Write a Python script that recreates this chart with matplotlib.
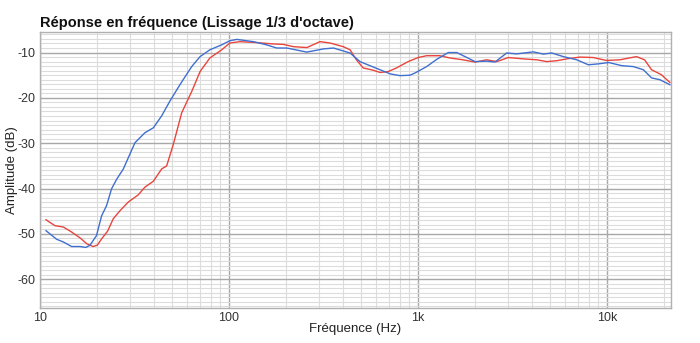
import numpy as np
import matplotlib
matplotlib.use("Agg")
import matplotlib.pyplot as plt
from matplotlib.ticker import FixedLocator, NullFormatter, MultipleLocator

plt.rcParams['font.family'] = ['Liberation Sans', 'DejaVu Sans']

title = "Réponse en fréquence (Lissage 1/3 d'octave)"
xlabel = "Fréquence (Hz)"
ylabel = "Amplitude (dB)"

blue_freq = [10.76, 12.25, 13.3, 14.7, 16.3, 17.5, 18.4, 19.9, 21.2, 22.5, 23.9, 25.5, 27.6,
             31.8, 35.9, 39.8, 44.0, 48.7, 55.0, 63.5, 70.3, 79.2, 91.5, 101, 110, 134.6, 158,
             178.6, 202, 258, 316, 357, 437, 493, 557, 630, 711, 803, 907, 965, 1111,
             1256, 1446, 1603, 1774, 2004, 2308, 2553, 2944, 3326, 4077, 4603, 5096,
             5874, 6913, 7963, 8994, 10200, 11970, 13780, 15570, 17200, 19050, 21500]
blue_db = [-49.3, -51.2, -51.8, -52.8, -52.8, -53.0, -52.5, -50.4, -46.0, -43.8, -40.1, -37.9, -35.7,
           -29.9, -27.7, -26.6, -24.0, -20.7, -17.1, -13.1, -10.9, -9.4, -8.3, -7.4, -7.1, -7.6, -8.3,
           -9.0, -9.0, -9.9, -9.2, -9.0, -10.1, -12.0, -12.9, -13.8, -14.7, -15.1, -15.0, -14.5, -13.1,
           -11.5, -10.0, -10.0, -10.9, -12.0, -11.9, -12.1, -10.1, -10.3, -9.85, -10.35, -10.1,
           -10.9, -11.6, -12.7, -12.5, -12.2, -12.9, -13.1, -13.8, -15.6, -16.0, -17.1]

red_freq = [10.76, 12.0, 13.3, 14.7, 16.3, 17.7, 19.1, 20.1, 21.2, 22.8, 24.4, 26.5, 29.3,
            33.1, 35.9, 39.8, 44.0, 46.8, 50.8, 56.2, 63.5, 70.3, 79.2, 91.5, 101, 114, 140,
            171, 194, 219, 258, 303, 343, 402, 437, 472, 513, 580, 630, 695, 769, 887, 1002,
            1111, 1303, 1476, 1727, 2004, 2308, 2614, 3003, 3609, 4249, 4801, 5422, 6123,
            7196, 8450, 9926, 11700, 14300, 15800, 17200, 19400, 21500]
red_db = [-46.9, -48.2, -48.5, -49.6, -50.9, -52.2, -52.8, -52.5, -51.1, -49.4, -46.7, -44.9, -43.0,
          -41.4, -39.7, -38.4, -35.7, -35.0, -30.2, -23.3, -18.6, -14.2, -11.2, -9.4, -7.9, -7.6, -7.8,
          -8.1, -8.2, -8.7, -8.9, -7.6, -7.9, -8.7, -9.4, -11.6, -13.4, -13.9, -14.4, -14.2, -13.4, -12.0, -11.1,
          -10.7, -10.7, -11.2, -11.6, -12.1, -11.6, -12.0, -11.1, -11.4, -11.6, -12.0, -11.8, -11.4,
          -11.0, -11.1, -11.75, -11.6, -10.9, -11.6, -13.8, -14.9, -16.6]

xticks = [10, 100, 1000, 10000]
xticklabels = ["10", "100", "1k", "10k"]
yticks = [-60, -50, -40, -30, -20, -10]
yticklabels = ["-60", "-50", "-40", "-30", "-20", "-10"]

fig = plt.figure(figsize=(7.0, 3.43), dpi=100)
ax = fig.add_axes([0.0571, 0.1029, 0.9015, 0.8047])

ax.plot(red_freq, red_db, color="#e8453c", lw=1.0, zorder=3)
ax.plot(blue_freq, blue_db, color="#3f6fcf", lw=1.0, zorder=4)

ax.set_xscale("log")
ax.set_xlim(10, 21800)
ax.set_ylim(-66.3, -5.4)

ax.xaxis.set_major_locator(FixedLocator(xticks))
ax.set_xticklabels(xticklabels)
minor_x = [m * 10 ** e for e in range(1, 5) for m in range(2, 10) if m * 10 ** e < 21800]
ax.xaxis.set_minor_locator(FixedLocator(minor_x))
ax.xaxis.set_minor_formatter(NullFormatter())
ax.set_yticks(yticks)
ax.set_yticklabels(yticklabels)
ax.yaxis.set_minor_locator(MultipleLocator(1))

ax.grid(which="major", color="#a8a8a8", lw=1.0, zorder=1)
ax.grid(which="minor", color="#dcdcdc", lw=0.8, zorder=0)
ax.tick_params(which="both", length=0, labelsize=9, colors="#333333", pad=3)

for s in ax.spines.values():
    s.set_color("#b0b0b0")
    s.set_linewidth(1.0)

ax.set_xlabel(xlabel, fontsize=9.5, color="#222222")
ax.set_ylabel(ylabel, fontsize=9.5, color="#222222")
ax.xaxis.set_label_coords(0.499, -0.076)
ax.yaxis.set_label_coords(-0.044, 0.5)
ax.xaxis.label.set_va("center")
ax.yaxis.label.set_va("center")
fig.text(0.0571, 0.921, title, fontsize=10.5, fontweight="bold", ha="left", va="baseline", color="#111111")

fig.savefig("out.png", dpi=100, facecolor="white")
